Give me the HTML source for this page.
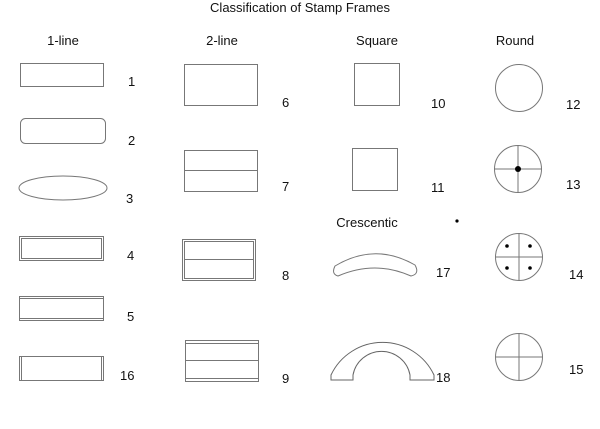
<!DOCTYPE html>
<html><head><meta charset="utf-8"><style>
html,body{margin:0;padding:0;background:#fff;}
svg{display:block;}
text{font-family:"Liberation Sans",Arial,sans-serif;font-size:13px;fill:#111;}
</style></head><body>
<svg width="600" height="429" viewBox="0 0 600 429" xmlns="http://www.w3.org/2000/svg">
<g fill="none" stroke="#777" stroke-width="1">
<rect x="20.5" y="63.5" width="83" height="23"/>
<rect x="20.5" y="118.5" width="85" height="25" rx="5"/>
<ellipse cx="63" cy="188" rx="44" ry="12"/>
<rect x="19.5" y="236.5" width="84" height="24"/>
<rect x="21.5" y="238.5" width="80" height="20"/>
<rect x="19.5" y="296.5" width="84" height="24"/>
<line x1="20" y1="298.5" x2="103" y2="298.5"/>
<line x1="20" y1="318.5" x2="103" y2="318.5"/>
<rect x="19.5" y="356.5" width="84" height="24"/>
<line x1="21.5" y1="357" x2="21.5" y2="380"/>
<line x1="101.5" y1="357" x2="101.5" y2="380"/>
<rect x="184.5" y="64.5" width="73" height="41"/>
<rect x="184.5" y="150.5" width="73" height="41"/>
<line x1="185" y1="170.5" x2="257" y2="170.5"/>
<rect x="182.5" y="239.5" width="73" height="41"/>
<rect x="184.5" y="241.5" width="69" height="37"/>
<line x1="184" y1="259.5" x2="254" y2="259.5"/>
<rect x="185.5" y="340.5" width="73" height="41"/>
<line x1="186" y1="343.5" x2="258" y2="343.5"/>
<line x1="186" y1="360.5" x2="258" y2="360.5"/>
<line x1="186" y1="378.5" x2="258" y2="378.5"/>
<rect x="354.5" y="63.5" width="45" height="42"/>
<rect x="352.5" y="148.5" width="45" height="42"/>
<path d="M338,276 Q331,274 335,266 Q375,242 415,265 Q420,274 411,276 Q375,260 338,276 Z"/>
<path d="M331,380 L331,375 A57,57 0 0 1 434,375 L434,380 L410,380 L410,375 A29,29 0 0 0 353,375 L353,380 Z" stroke="#666"/>
<circle cx="519" cy="88" r="23.5"/>
<circle cx="518" cy="169" r="23.5"/>
<line x1="494.5" y1="169" x2="541.5" y2="169"/>
<line x1="518" y1="145.5" x2="518" y2="192.5"/>
<circle cx="519" cy="257" r="23.5"/>
<line x1="495.5" y1="257" x2="542.5" y2="257"/>
<line x1="519" y1="233.5" x2="519" y2="280.5"/>
<circle cx="519" cy="357" r="23.5"/>
<line x1="495.5" y1="357" x2="542.5" y2="357"/>
<line x1="519" y1="333.5" x2="519" y2="380.5"/>
</g>
<g fill="#000">
<circle cx="518" cy="169" r="3"/>
<circle cx="507" cy="246" r="1.8"/><circle cx="530" cy="246" r="1.8"/>
<circle cx="507" cy="268" r="1.8"/><circle cx="530" cy="268" r="1.8"/>
<circle cx="457" cy="221" r="1.6"/>
</g>
<text x="300" y="12" text-anchor="middle">Classification of Stamp Frames</text>
<text x="63" y="45" text-anchor="middle">1-line</text>
<text x="222" y="45" text-anchor="middle">2-line</text>
<text x="377" y="45" text-anchor="middle">Square</text>
<text x="515" y="45" text-anchor="middle">Round</text>
<text x="367" y="227" text-anchor="middle">Crescentic</text>
<text x="128" y="86">1</text>
<text x="128" y="145">2</text>
<text x="126" y="203">3</text>
<text x="127" y="260">4</text>
<text x="127" y="321">5</text>
<text x="120" y="380">16</text>
<text x="282" y="107">6</text>
<text x="282" y="191">7</text>
<text x="282" y="280">8</text>
<text x="282" y="383">9</text>
<text x="431" y="108">10</text>
<text x="431" y="192">11</text>
<text x="436" y="277">17</text>
<text x="436" y="382">18</text>
<text x="566" y="109">12</text>
<text x="566" y="189">13</text>
<text x="569" y="279">14</text>
<text x="569" y="374">15</text>
</svg>
</body></html>
